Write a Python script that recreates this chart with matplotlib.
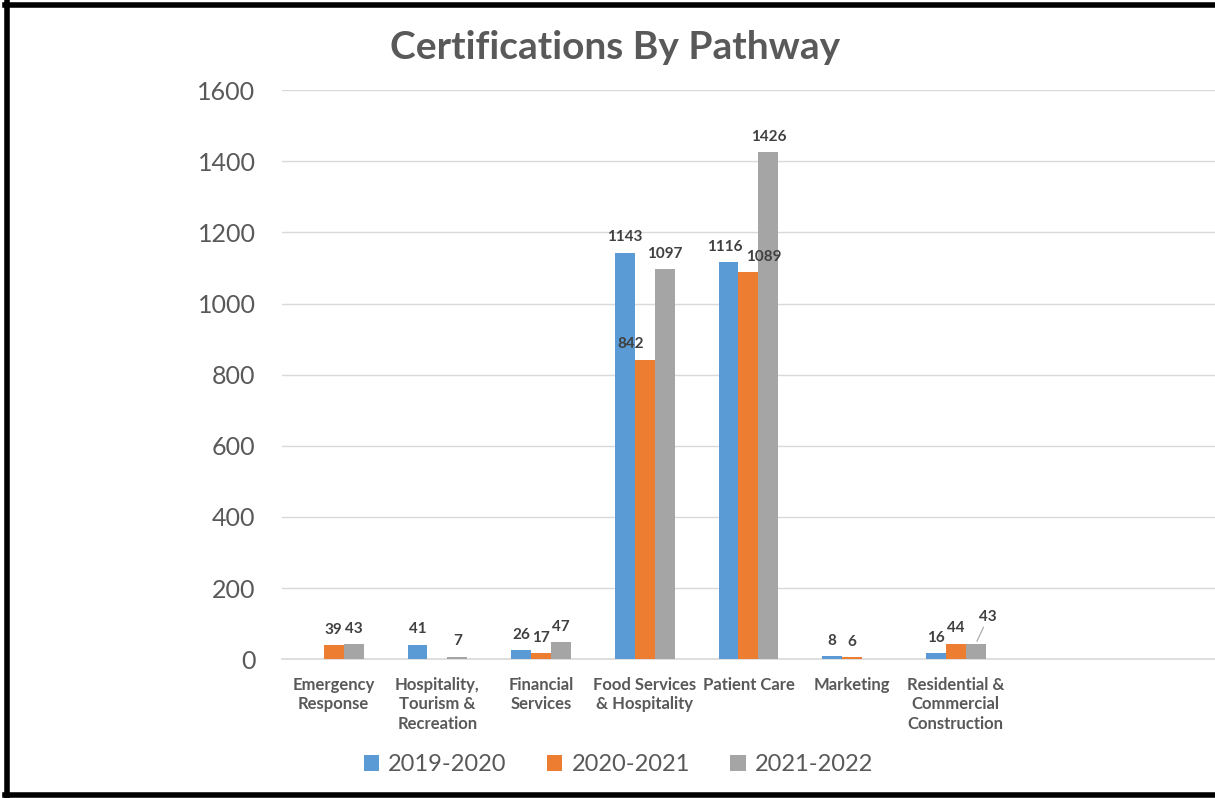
import numpy as np
import matplotlib.pyplot as plt
from matplotlib.lines import Line2D

# chart data
categories = ["Emergency\nResponse", "Hospitality,\nTourism &\nRecreation", "Financial\nServices",
              "Food Services\n& Hospitality", "Patient Care", "Marketing",
              "Residential &\nCommercial\nConstruction", "", ""]
series_names = ["2019-2020", "2020-2021", "2021-2022"]
y2019 = [np.nan, 41, 26, 1143, 1116, 8, 16, np.nan, np.nan]
y2020 = [39, np.nan, 17, 842, 1089, 6, 44, np.nan, np.nan]
y2021 = [43, 7, 47, 1097, 1426, np.nan, 43, np.nan, np.nan]
colors = ["#5B9BD5", "#ED7D31", "#A5A5A5"]
yticks = [0, 200, 400, 600, 800, 1000, 1200, 1400, 1600]

# small label nudges (points) so neighbouring labels don't collide
label_nudge = {(1, 4): (11, 0), (1, 3): (-10, 0), (0, 4): (-3, 0)}

plt.rcParams['font.family'] = ['Lato', 'DejaVu Sans']
text_gray = "#595959"
label_gray = "#404040"

fig = plt.figure(figsize=(12.15, 7.98), dpi=100)
ax = fig.add_axes([0.232, 0.174, 0.768, 0.713])

x = np.arange(len(categories))
width = 0.192
for i, (vals, name, col) in enumerate(zip([y2019, y2020, y2021], series_names, colors)):
    pos = x + (i - 1) * width
    ax.bar(pos, vals, width=width, color=col, label=name, zorder=3)
    for j, (p, v) in enumerate(zip(pos, vals)):
        if np.isnan(v):
            continue
        if i == 2 and j == 6:
            # label pulled up with a leader line
            ax.annotate(f"{int(v)}", xy=(p, v), xytext=(p + 0.12, v + 55),
                        ha="center", va="bottom", fontsize=11, fontweight="bold",
                        color=label_gray, zorder=5,
                        arrowprops=dict(arrowstyle="-", color="#A5A5A5", lw=0.8,
                                        shrinkA=0, shrinkB=2))
            continue
        dx, dy = label_nudge.get((i, j), (0, 0))
        ax.annotate(f"{int(v)}", xy=(p, v), xytext=(dx, 6 + dy), textcoords="offset points",
                    ha="center", va="bottom", fontsize=11, fontweight="bold",
                    color=label_gray, zorder=5)

ax.set_xlim(-0.5, len(categories) - 0.5)
ax.set_ylim(0, 1600)
ax.set_yticks(yticks)
ax.set_yticklabels([str(t) for t in yticks], fontsize=18, color=text_gray)
ax.set_xticks(x)
ax.set_xticklabels(categories, fontsize=12, fontweight="bold", color=text_gray,
                   linespacing=1.25)
ax.tick_params(axis="both", length=0)
ax.tick_params(axis="y", pad=19)
ax.tick_params(axis="x", pad=13)
ax.grid(axis="y", color="#D9D9D9", linewidth=1, zorder=0)
for s in ["top", "right", "left"]:
    ax.spines[s].set_visible(False)
ax.spines["bottom"].set_color("#D9D9D9")
ax.spines["bottom"].set_linewidth(1.2)

fig.text(0.506, 0.94, "Certifications By Pathway", ha="center", va="center",
         fontsize=28, fontweight="bold", color=text_gray)

fig.legend(loc="center", bbox_to_anchor=(0.509, 0.042), ncol=3, frameon=False,
           fontsize=17, handlelength=0.65, handleheight=0.65, handletextpad=0.4,
           columnspacing=1.7, labelcolor=text_gray)

# black frame on left, top and bottom
fig.add_artist(Line2D([0.0058, 0.0058], [0.003, 0.997], transform=fig.transFigure,
                      color="black", linewidth=4))
fig.add_artist(Line2D([0.004, 1.0], [0.994, 0.994], transform=fig.transFigure,
                      color="black", linewidth=4))
fig.add_artist(Line2D([0.004, 1.0], [0.004, 0.004], transform=fig.transFigure,
                      color="black", linewidth=4))

fig.savefig("out.png", dpi=100)
